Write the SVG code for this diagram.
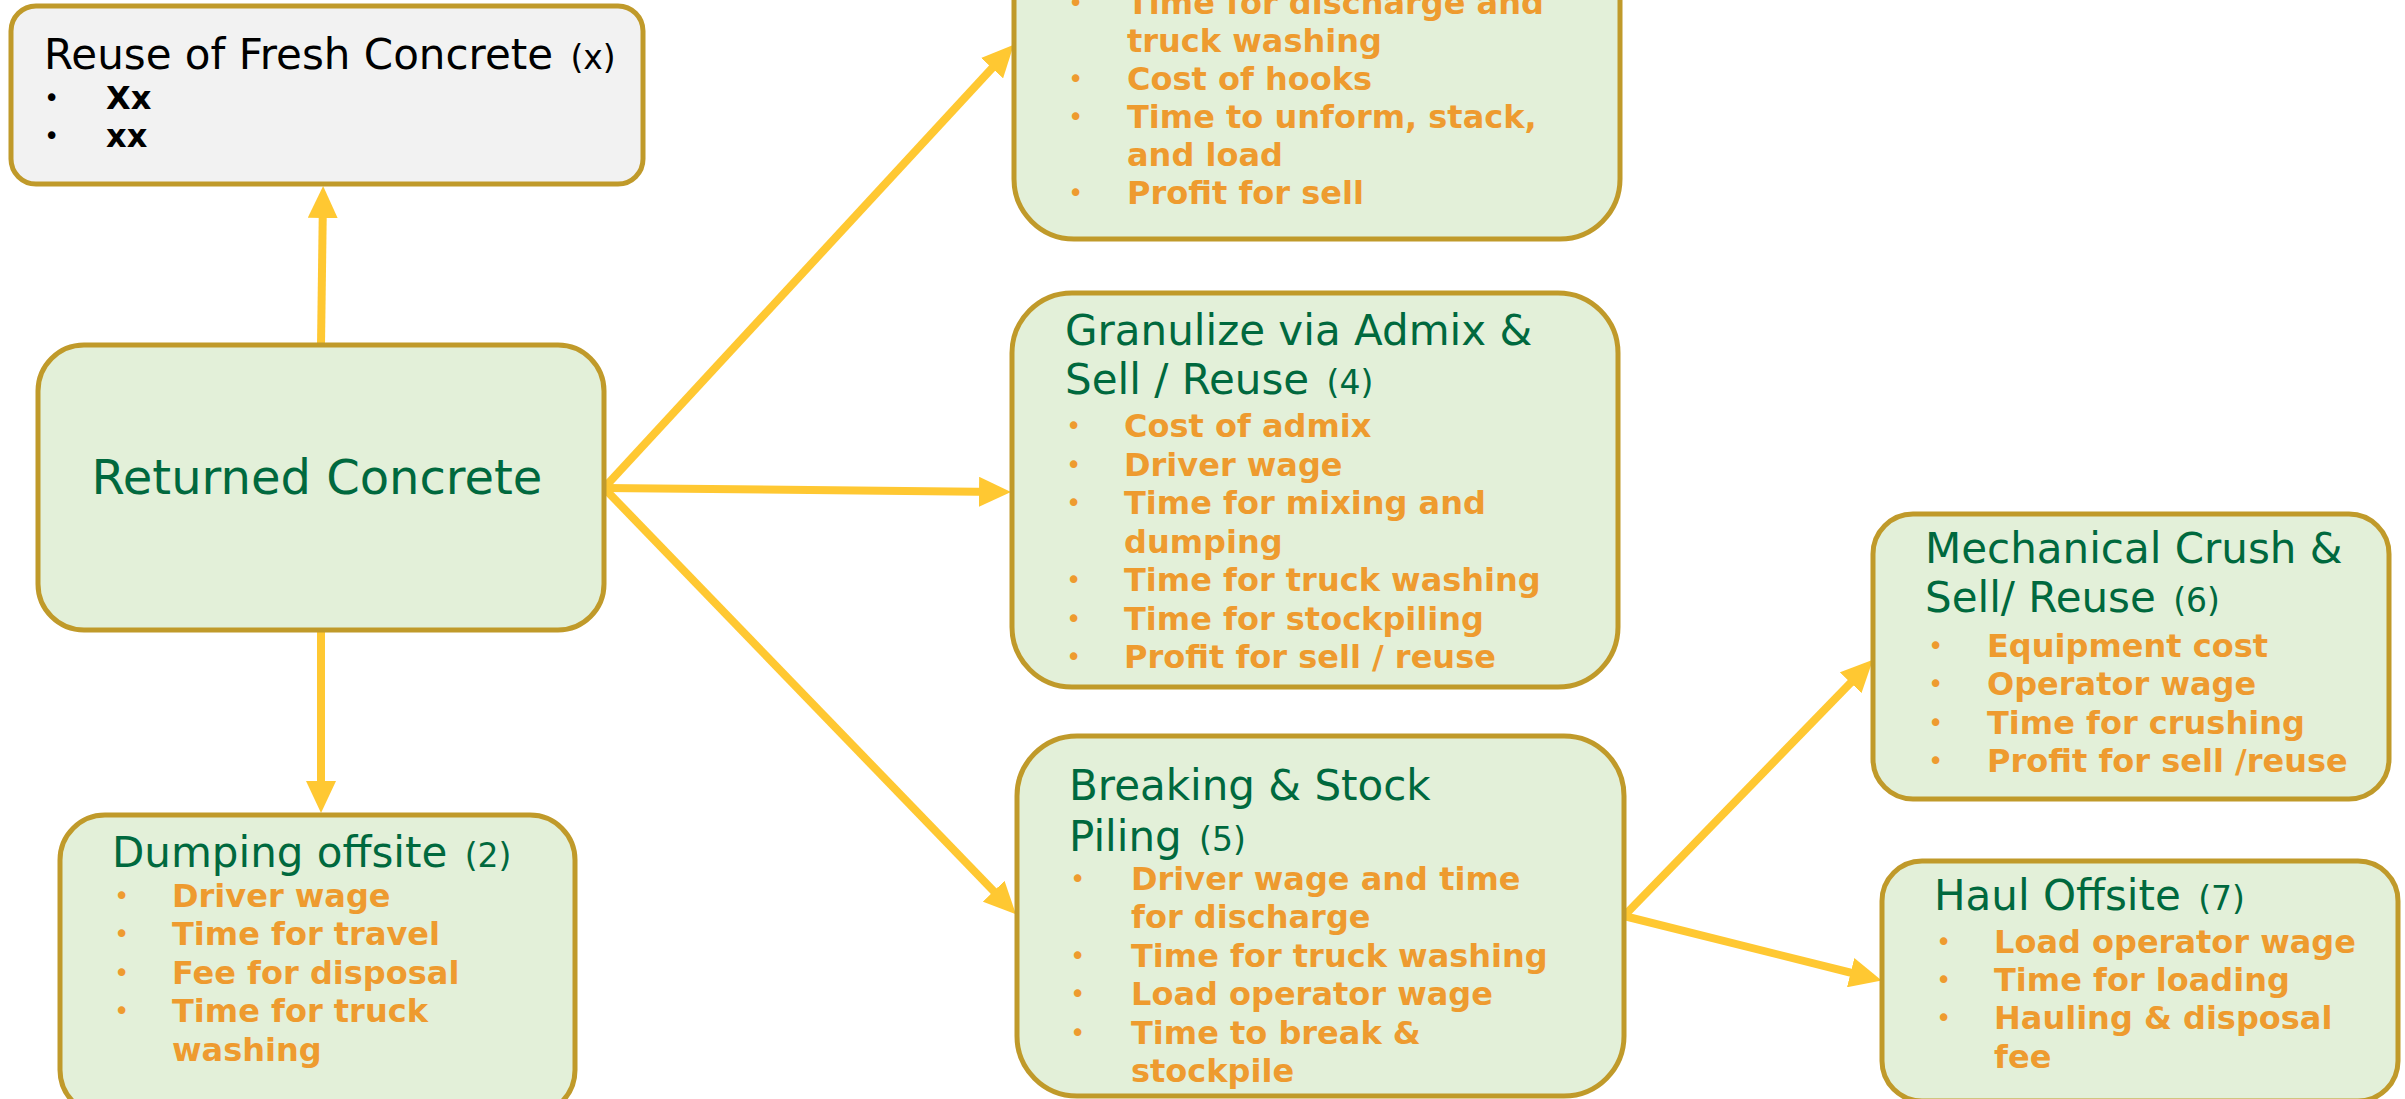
<svg xmlns="http://www.w3.org/2000/svg" width="2405" height="1099" viewBox="0 0 2405 1099">
<style>
.box{fill:#e3f0d9;stroke:#c09a2a;stroke-width:5}
.grey{fill:#f2f2f2;stroke:#c09a2a;stroke-width:5}
.title{font-family:"DejaVu Sans",Verdana,sans-serif;font-size:42px;fill:#00693e}
.num{font-size:33px}
.item{font-family:"DejaVu Sans",Verdana,sans-serif;font-size:32px;font-weight:bold;fill:#ee9b2f}
.dot{font-family:"DejaVu Sans",Verdana,sans-serif;font-size:26px;fill:#ee9b2f}
.blk{fill:#000}
.con{stroke:#ffc832;stroke-width:8;fill:none;marker-end:url(#ah)}
</style>
<defs>
<marker id="ah" markerUnits="userSpaceOnUse" markerWidth="32" markerHeight="30" viewBox="0 0 32 30" refX="22" refY="15" orient="auto">
<path d="M0,0 L32,15 L0,30 z" fill="#ffc832"/>
</marker>
</defs>
<rect width="2405" height="1099" fill="#ffffff"/>
<g id="connectors">
<line class="con" x1="321" y1="345" x2="323" y2="196"/>
<line class="con" x1="321" y1="630" x2="321" y2="803"/>
<line class="con" x1="604" y1="488" x2="1007" y2="52"/>
<line class="con" x1="604" y1="488" x2="1001" y2="492"/>
<line class="con" x1="604" y1="488" x2="1009" y2="907"/>
<line class="con" x1="1624" y1="916" x2="1866" y2="667"/>
<line class="con" x1="1624" y1="916" x2="1872" y2="978"/>
</g>
<g id="reuse-fresh">
<rect class="grey" x="11" y="6" width="632" height="178" rx="25"/>
<text class="title" x="44" y="69" style="fill:#000">Reuse of Fresh Concrete <tspan class="num" dx="4">(x)</tspan></text>
<text class="dot blk" x="44" y="107">•</text><text class="item blk" x="106" y="109">Xx</text>
<text class="dot blk" x="44" y="145">•</text><text class="item blk" x="106" y="147">xx</text>
</g>
<g id="returned">
<rect class="box" x="38" y="345" width="566" height="285" rx="46"/>
<text class="title" x="317" y="494" text-anchor="middle" style="font-size:48px">Returned Concrete</text>
</g>
<g id="top-option">
<rect class="box" x="1014" y="-200" width="606" height="439" rx="60"/>
<text class="dot" x="1068" y="12">•</text><text class="item" x="1127" y="14">Time for discharge and</text>
<text class="item" x="1127" y="52">truck washing</text>
<text class="dot" x="1068" y="88">•</text><text class="item" x="1127" y="90">Cost of hooks</text>
<text class="dot" x="1068" y="126">•</text><text class="item" x="1127" y="128">Time to unform, stack,</text>
<text class="item" x="1127" y="166">and load</text>
<text class="dot" x="1068" y="202">•</text><text class="item" x="1127" y="204">Profit for sell</text>
</g>
<g id="granulize">
<rect class="box" x="1012" y="293" width="606" height="394" rx="60"/>
<text class="title" x="1065" y="345">Granulize via Admix &amp;</text>
<text class="title" x="1065" y="394">Sell / Reuse <tspan class="num" dx="4">(4)</tspan></text>
<text class="dot" x="1066" y="435">•</text><text class="item" x="1124" y="437">Cost of admix</text>
<text class="dot" x="1066" y="474">•</text><text class="item" x="1124" y="476">Driver wage</text>
<text class="dot" x="1066" y="512">•</text><text class="item" x="1124" y="514">Time for mixing and</text>
<text class="item" x="1124" y="553">dumping</text>
<text class="dot" x="1066" y="589">•</text><text class="item" x="1124" y="591">Time for truck washing</text>
<text class="dot" x="1066" y="628">•</text><text class="item" x="1124" y="630">Time for stockpiling</text>
<text class="dot" x="1066" y="666">•</text><text class="item" x="1124" y="668">Profit for sell / reuse</text>
</g>
<g id="dumping">
<rect class="box" x="60" y="815" width="515" height="300" rx="45"/>
<text class="title" x="112" y="867">Dumping offsite <tspan class="num" dx="4">(2)</tspan></text>
<text class="dot" x="114" y="905">•</text><text class="item" x="172" y="907">Driver wage</text>
<text class="dot" x="114" y="943">•</text><text class="item" x="172" y="945">Time for travel</text>
<text class="dot" x="114" y="982">•</text><text class="item" x="172" y="984">Fee for disposal</text>
<text class="dot" x="114" y="1020">•</text><text class="item" x="172" y="1022">Time for truck</text>
<text class="item" x="172" y="1061">washing</text>
</g>
<g id="breaking">
<rect class="box" x="1017" y="736" width="607" height="360" rx="60"/>
<text class="title" x="1069" y="800">Breaking &amp; Stock</text>
<text class="title" x="1069" y="851">Piling <tspan class="num" dx="4">(5)</tspan></text>
<text class="dot" x="1070" y="888">•</text><text class="item" x="1131" y="890">Driver wage and time</text>
<text class="item" x="1131" y="928">for discharge</text>
<text class="dot" x="1070" y="965">•</text><text class="item" x="1131" y="967">Time for truck washing</text>
<text class="dot" x="1070" y="1003">•</text><text class="item" x="1131" y="1005">Load operator wage</text>
<text class="dot" x="1070" y="1042">•</text><text class="item" x="1131" y="1044">Time to break &amp;</text>
<text class="item" x="1131" y="1082">stockpile</text>
</g>
<g id="crush">
<rect class="box" x="1873" y="514" width="516" height="285" rx="40"/>
<text class="title" x="1925" y="563">Mechanical Crush &amp;</text>
<text class="title" x="1925" y="612">Sell/ Reuse <tspan class="num" dx="4">(6)</tspan></text>
<text class="dot" x="1928" y="655">•</text><text class="item" x="1987" y="657">Equipment cost</text>
<text class="dot" x="1928" y="693">•</text><text class="item" x="1987" y="695">Operator wage</text>
<text class="dot" x="1928" y="732">•</text><text class="item" x="1987" y="734">Time for crushing</text>
<text class="dot" x="1928" y="770">•</text><text class="item" x="1987" y="772">Profit for sell /reuse</text>
</g>
<g id="haul">
<rect class="box" x="1882" y="861" width="516" height="240" rx="40"/>
<text class="title" x="1934" y="910">Haul Offsite <tspan class="num" dx="4">(7)</tspan></text>
<text class="dot" x="1936" y="951">•</text><text class="item" x="1994" y="953">Load operator wage</text>
<text class="dot" x="1936" y="989">•</text><text class="item" x="1994" y="991">Time for loading</text>
<text class="dot" x="1936" y="1027">•</text><text class="item" x="1994" y="1029">Hauling &amp; disposal</text>
<text class="item" x="1994" y="1068">fee</text>
</g>
</svg>
